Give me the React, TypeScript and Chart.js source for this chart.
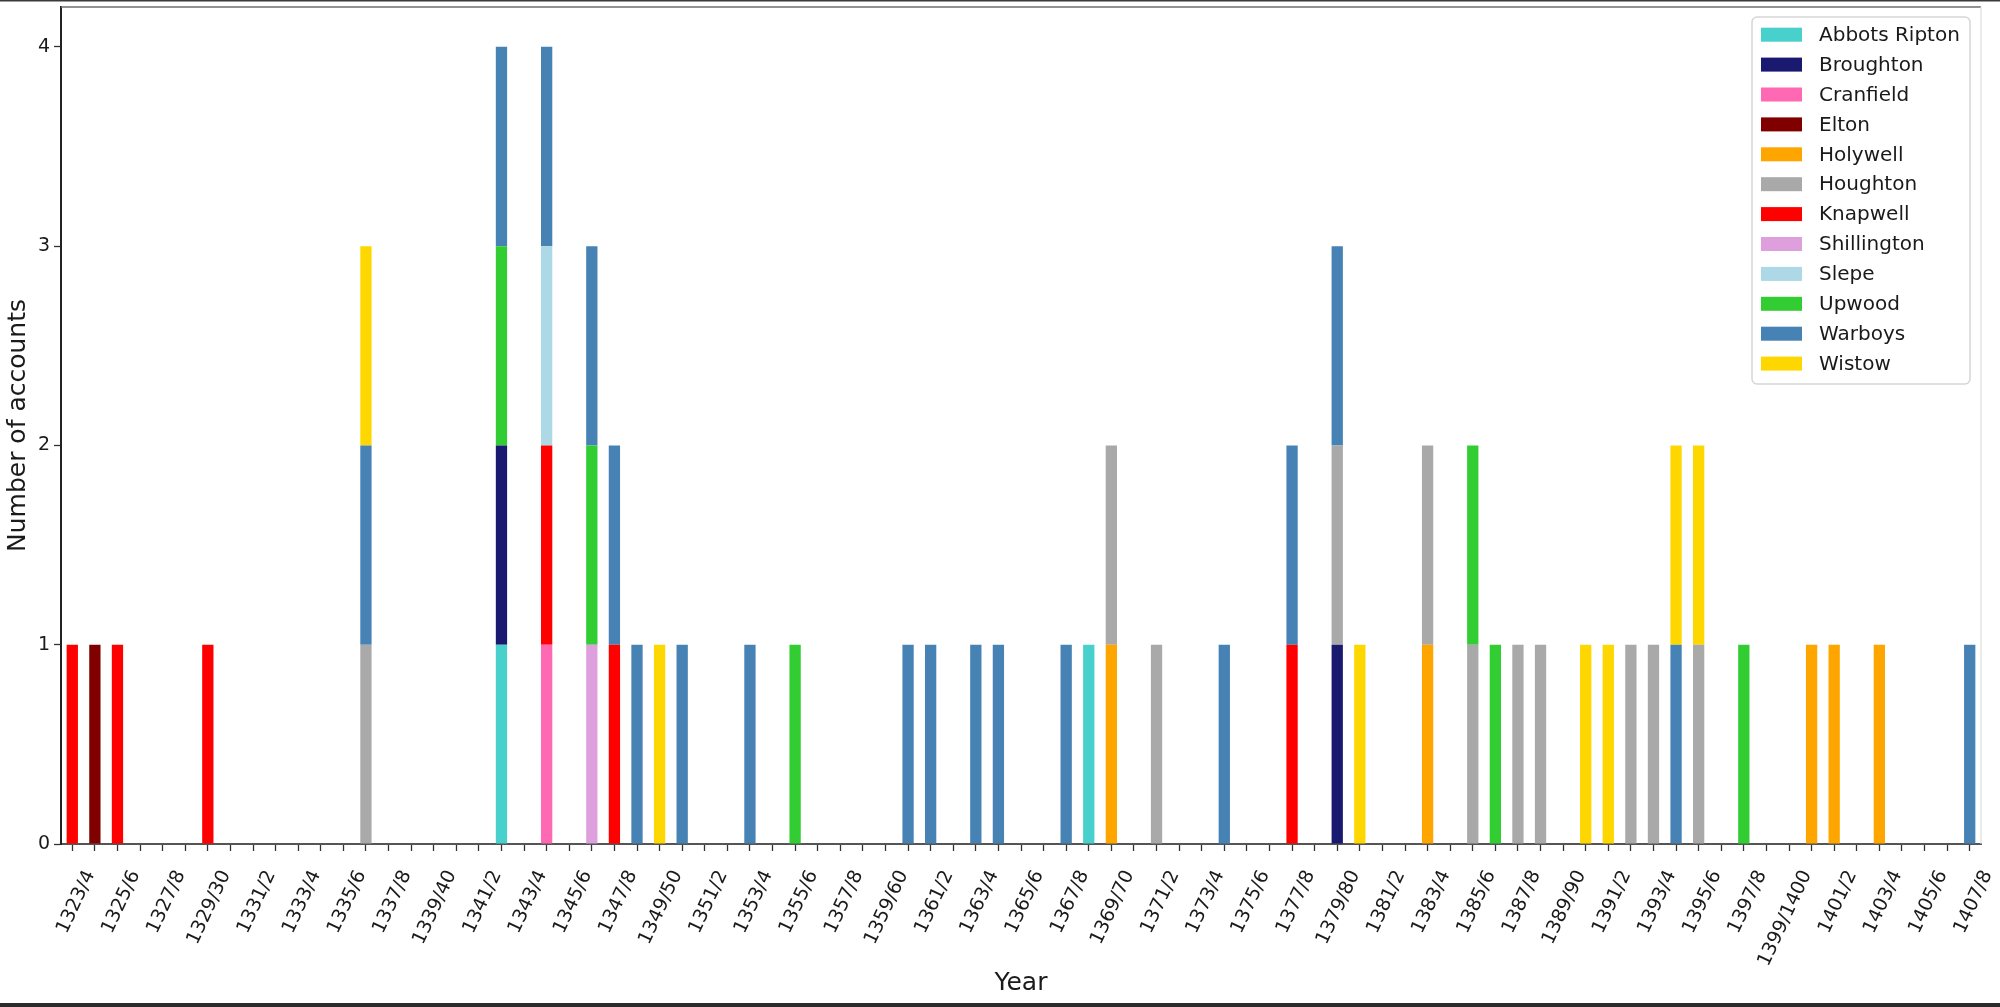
import React, { useEffect, useRef } from 'react';
import { Chart, registerables } from 'chart.js';

Chart.register(...registerables);

const years = [
  '1323/4', '1324/5', '1325/6', '1326/7', '1327/8', '1328/9', '1329/30', '1330/1', '1331/2', '1332/3',
  '1333/4', '1334/5', '1335/6', '1336/7', '1337/8', '1338/9', '1339/40', '1340/1', '1341/2', '1342/3',
  '1343/4', '1344/5', '1345/6', '1346/7', '1347/8', '1348/9', '1349/50', '1350/1', '1351/2', '1352/3',
  '1353/4', '1354/5', '1355/6', '1356/7', '1357/8', '1358/9', '1359/60', '1360/1', '1361/2', '1362/3',
  '1363/4', '1364/5', '1365/6', '1366/7', '1367/8', '1368/9', '1369/70', '1370/1', '1371/2', '1372/3',
  '1373/4', '1374/5', '1375/6', '1376/7', '1377/8', '1378/9', '1379/80', '1380/1', '1381/2', '1382/3',
  '1383/4', '1384/5', '1385/6', '1386/7', '1387/8', '1388/9', '1389/90', '1390/1', '1391/2', '1392/3',
  '1393/4', '1394/5', '1395/6', '1396/7', '1397/8', '1398/9', '1399/1400', '1400/1', '1401/2', '1402/3',
  '1403/4', '1404/5', '1405/6', '1406/7', '1407/8',
];

// [year, number of accounts] per manor
const abbotsRipton: [string, number][] = [['1342/3', 1], ['1368/9', 1]];
const broughton: [string, number][] = [['1342/3', 1], ['1379/80', 1]];
const cranfield: [string, number][] = [['1344/5', 1]];
const elton: [string, number][] = [['1324/5', 1]];
const holywell: [string, number][] = [
  ['1369/70', 1], ['1383/4', 1], ['1400/1', 1], ['1401/2', 1], ['1403/4', 1],
];
const houghton: [string, number][] = [
  ['1336/7', 1], ['1369/70', 1], ['1371/2', 1], ['1379/80', 1], ['1383/4', 1], ['1385/6', 1],
  ['1387/8', 1], ['1388/9', 1], ['1392/3', 1], ['1393/4', 1], ['1395/6', 1],
];
const knapwell: [string, number][] = [
  ['1323/4', 1], ['1325/6', 1], ['1329/30', 1], ['1344/5', 1], ['1347/8', 1], ['1377/8', 1],
];
const shillington: [string, number][] = [['1346/7', 1]];
const slepe: [string, number][] = [['1344/5', 1]];
const upwood: [string, number][] = [
  ['1342/3', 1], ['1346/7', 1], ['1355/6', 1], ['1385/6', 1], ['1386/7', 1], ['1397/8', 1],
];
const warboys: [string, number][] = [
  ['1336/7', 1], ['1342/3', 1], ['1344/5', 1], ['1346/7', 1], ['1347/8', 1], ['1348/9', 1],
  ['1350/1', 1], ['1353/4', 1], ['1360/1', 1], ['1361/2', 1], ['1363/4', 1], ['1364/5', 1],
  ['1367/8', 1], ['1374/5', 1], ['1377/8', 1], ['1379/80', 1], ['1394/5', 1], ['1407/8', 1],
];
const wistow: [string, number][] = [
  ['1336/7', 1], ['1349/50', 1], ['1380/1', 1], ['1390/1', 1], ['1391/2', 1], ['1394/5', 1], ['1395/6', 1],
];

const manorNames = [
  'Abbots Ripton', 'Broughton', 'Cranfield', 'Elton', 'Holywell', 'Houghton',
  'Knapwell', 'Shillington', 'Slepe', 'Upwood', 'Warboys', 'Wistow',
];
const manorSeries = [
  abbotsRipton, broughton, cranfield, elton, holywell, houghton,
  knapwell, shillington, slepe, upwood, warboys, wistow,
];
const manorColors = [
  '#48D1CC', '#191970', '#FF69B4', '#800000', '#FFA500', '#A9A9A9',
  '#FF0000', '#DDA0DD', '#ADD8E6', '#32CD32', '#4682B4', '#FFD700',
];

const yTicks = [0, 1, 2, 3, 4];

const FONT = '"DejaVu Sans", "Liberation Sans", sans-serif';

const framePlugin = {
  id: 'frame',
  beforeDraw(chart: any) {
    const { ctx, width, height } = chart;
    ctx.save();
    ctx.fillStyle = '#ffffff';
    ctx.fillRect(0, 0, width, height);
    ctx.restore();
  },
  afterDraw(chart: any) {
    const { ctx, width, height, chartArea } = chart;
    ctx.save();
    // outer screenshot frame
    ctx.fillStyle = '#3a3a3a';
    ctx.fillRect(0, 0, width, 1.5);
    ctx.fillStyle = '#2b2b2b';
    ctx.fillRect(0, height - 4, width, 4);
    // top spine
    ctx.strokeStyle = '#6e6e6e';
    ctx.lineWidth = 1.5;
    ctx.beginPath();
    ctx.moveTo(chartArea.left, chartArea.top);
    ctx.lineTo(chartArea.right, chartArea.top);
    ctx.stroke();
    // right spine
    ctx.strokeStyle = '#dcdcdc';
    ctx.lineWidth = 1.2;
    ctx.beginPath();
    ctx.moveTo(chartArea.right, chartArea.top);
    ctx.lineTo(chartArea.right, chartArea.bottom);
    ctx.stroke();
    ctx.restore();
  },
};

const boxLegendPlugin = {
  id: 'boxLegend',
  afterDraw(chart: any) {
    const { ctx, chartArea } = chart;
    const datasets = chart.data.datasets;
    const boxW = 218;
    const rowH = 29.9;
    const boxH = 367;
    const x0 = chartArea.right - 11 - boxW;
    const y0 = chartArea.top + 10;
    ctx.save();
    const r = 5;
    ctx.beginPath();
    ctx.moveTo(x0 + r, y0);
    ctx.lineTo(x0 + boxW - r, y0);
    ctx.arcTo(x0 + boxW, y0, x0 + boxW, y0 + r, r);
    ctx.lineTo(x0 + boxW, y0 + boxH - r);
    ctx.arcTo(x0 + boxW, y0 + boxH, x0 + boxW - r, y0 + boxH, r);
    ctx.lineTo(x0 + r, y0 + boxH);
    ctx.arcTo(x0, y0 + boxH, x0, y0 + boxH - r, r);
    ctx.lineTo(x0, y0 + r);
    ctx.arcTo(x0, y0, x0 + r, y0, r);
    ctx.closePath();
    ctx.fillStyle = 'rgba(255,255,255,0.85)';
    ctx.fill();
    ctx.strokeStyle = '#d6d6d6';
    ctx.lineWidth = 1.5;
    ctx.stroke();
    ctx.font = `20px ${FONT}`;
    ctx.textBaseline = 'middle';
    ctx.textAlign = 'left';
    datasets.forEach((ds: any, i: number) => {
      const cy = y0 + 17.7 + i * rowH;
      ctx.fillStyle = ds.backgroundColor;
      ctx.fillRect(x0 + 9, cy - 7, 41, 14);
      ctx.fillStyle = '#1a1a1a';
      ctx.fillText(ds.label, x0 + 67, cy + 1);
    });
    ctx.restore();
  },
};

export default function App() {
  const canvasRef = useRef<HTMLCanvasElement | null>(null);

  useEffect(() => {
    const canvas = canvasRef.current;
    if (!canvas) return;
    const chart = new Chart(canvas, {
      type: 'bar',
      data: {
        labels: years,
        datasets: manorNames.map((name, i) => ({
          label: name,
          data: manorSeries[i].map(([x, y]) => ({ x, y })),
          backgroundColor: manorColors[i],
          borderWidth: 0,
          categoryPercentage: 1.0,
          barPercentage: 0.5,
        })),
      },
      options: {
        responsive: false,
        animation: false,
        devicePixelRatio: 1,
        layout: { padding: { top: 7, right: 19, left: 0, bottom: 0 } },
        plugins: {
          legend: { display: false },
          tooltip: { enabled: false },
          title: { display: false },
        },
        scales: {
          x: {
            type: 'category',
            stacked: true,
            offset: true,
            afterFit: (scale: any) => {
              scale.height = 163;
              scale.paddingLeft = 0;
              scale.paddingRight = 0;
              scale.paddingTop = 0;
              scale.paddingBottom = 0;
            },
            grid: {
              display: true,
              offset: false,
              drawOnChartArea: false,
              drawTicks: true,
              tickLength: 7,
              tickWidth: 1.3,
              tickColor: '#333333',
            },
            border: { display: true, color: '#555555', width: 2 },
            ticks: {
              autoSkip: false,
              maxRotation: 65,
              minRotation: 65,
              padding: 16,
              labelOffset: 18,
              color: '#1a1a1a',
              font: { family: FONT, size: 19 },
              callback: (_v: any, index: number) => (index % 2 === 0 ? years[index] : ''),
            },
            title: {
              display: true,
              text: 'Year',
              color: '#1a1a1a',
              font: { family: FONT, size: 25 },
              padding: { top: 0, bottom: 9 },
            },
          },
          y: {
            stacked: true,
            min: 0,
            max: 4.2,
            afterFit: (scale: any) => {
              scale.width = 61;
              scale.paddingTop = 0;
              scale.paddingBottom = 0;
              scale.paddingLeft = 0;
              scale.paddingRight = 0;
            },
            afterBuildTicks: (scale: any) => {
              scale.ticks = yTicks.map((v) => ({ value: v }));
            },
            grid: {
              display: true,
              drawOnChartArea: false,
              drawTicks: true,
              tickLength: 7,
              tickWidth: 1.3,
              tickColor: '#333333',
            },
            border: { display: true, color: '#222222', width: 2 },
            ticks: {
              padding: 4,
              color: '#1a1a1a',
              font: { family: FONT, size: 19 },
              callback: (v: any) => String(v),
            },
            title: {
              display: true,
              text: 'Number of accounts',
              color: '#1a1a1a',
              font: { family: FONT, size: 25 },
              padding: { top: 3, bottom: 0 },
            },
          },
        },
      },
      plugins: [framePlugin, boxLegendPlugin],
    } as any);
    return () => chart.destroy();
  }, []);

  return (
    <div style={{ position: 'absolute', left: 0, top: 0, width: 2000, height: 1007, background: '#fff' }}>
      <canvas ref={canvasRef} width={2000} height={1007} style={{ display: 'block', width: 2000, height: 1007 }} />
    </div>
  );
}
